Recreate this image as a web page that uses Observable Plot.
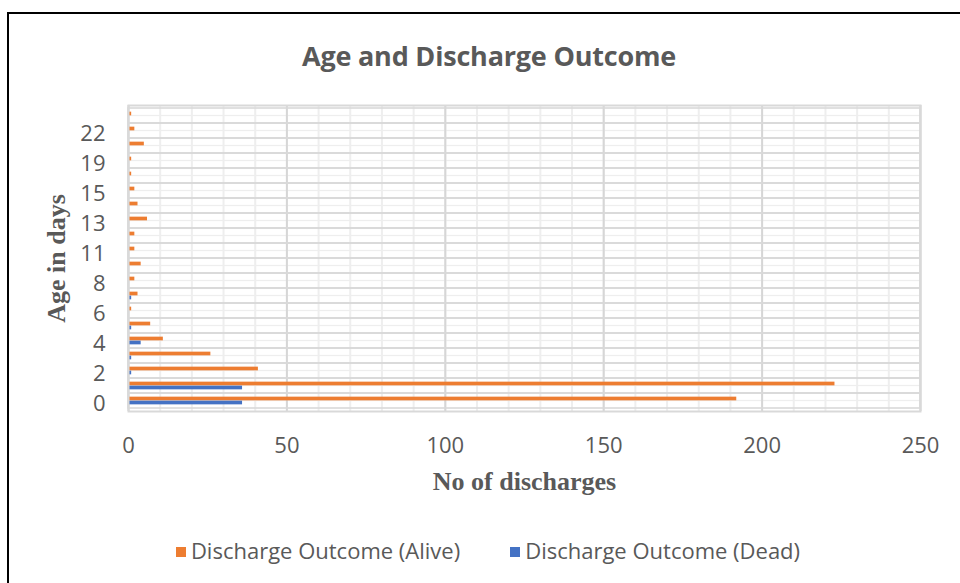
<!DOCTYPE html>
<html>
<head>
<meta charset="utf-8">
<script src="https://cdn.jsdelivr.net/npm/d3@7"></script>
<script src="https://cdn.jsdelivr.net/npm/@observablehq/plot@0.6"></script>
<style>
  html, body { margin: 0; padding: 0; background: #fff; }
  #wrap { position: relative; width: 960px; height: 583px; overflow: hidden; background: #fff; }
  #border { position: absolute; left: 7px; top: 12px; width: 1000px; height: 700px;
            border-left: 2.5px solid #000; border-top: 2.5px solid #000; box-sizing: border-box; }
  #title { position: absolute; left: 0; width: 978px; top: 37px; text-align: center;
           font: bold 27px "Open Sans", sans-serif; color: #595959; letter-spacing: -0.2px; }
  #chart { position: absolute; left: 0; top: 0; }
  #legend { position: absolute; left: 0; width: 976px; top: 535px; text-align: center;
            font: 22px "Open Sans", sans-serif; color: #595959; white-space: nowrap; }
  .item { display: inline-block; margin: 0 25px; }
  .sw { display: inline-block; width: 10px; height: 10px; margin-right: 5px; vertical-align: 2px; }
</style>
</head>
<body>
<div id="wrap">
  <div id="chart"></div>
  <div id="border"></div>
  <div id="title">Age and Discharge Outcome</div>
  <div id="legend"></div>
</div>
<script>
// ---- data ----
const ages  = ["0","1","2","3","4","5","6","7","8","9","11","12","13","14","15","17","19","21","22","25"];
const alive = [192,223,41,26,11,7,1,3,2,4,2,2,6,3,2,1,1,5,2,1];
const dead  = [36,36,1,1,4,1,0,1,0,0,0,0,0,0,0,0,0,0,0,0];
const yTickLabels = ["0","2","4","6","8","11","13","15","19","22"];
const xTicks = [0,50,100,150,200,250];
const seriesNames = ["Discharge Outcome (Alive)", "Discharge Outcome (Dead)"];
const seriesColors = ["#ED7D31", "#4472C4"];

const rows = ages.map((a, i) => ({age: a, alive: alive[i], dead: dead[i]}));

const W = 960, H = 583, mt = 105, mb = 172, ml = 128, mr = 40;
const bw = (H - mt - mb) / ages.length;     // band height in px
const half = bw / 2, barH = 4;

const chart = Plot.plot({
  width: W, height: H,
  marginTop: mt, marginBottom: mb, marginLeft: ml, marginRight: mr,
  style: {fontFamily: "Open Sans, sans-serif", fontSize: "22px", color: "#595959", background: "transparent"},
  x: {domain: [0, 250], label: null},
  y: {domain: ages.slice().reverse(), padding: 0, label: null},
  marks: [
    // minor vertical grid (every 10)
    Plot.ruleX(d3.range(0, 251, 10), {stroke: "#eeeeee", strokeWidth: 2}),
    // minor horizontal grid (mid band)
    Plot.barX(rows, {y: "age", x1: 0, x2: 250, fill: "#eeeeee", insetTop: half - 0.8, insetBottom: half - 0.8}),
    // major vertical grid (every 50)
    Plot.ruleX(xTicks, {stroke: "#d6d6d6", strokeWidth: 2}),
    // major horizontal grid (band boundaries)
    Plot.barX(rows, {y: "age", x1: 0, x2: 250, fill: "none", stroke: "#d9d9d9", strokeWidth: 1.6}),
    // bars
    Plot.barX(rows, {y: "age", x: "alive", fill: seriesColors[0], insetTop: half - barH, insetBottom: half}),
    Plot.barX(rows, {y: "age", x: "dead", fill: seriesColors[1], insetTop: half, insetBottom: half - barH}),
    // plot frame
    Plot.frame({stroke: "#d9d9d9", strokeWidth: 2}),
    // axes
    Plot.axisX({ticks: xTicks, tickSize: 0, tickPadding: 26, label: null}),
    Plot.axisY({ticks: yTickLabels, tickSize: 0, tickPadding: 23, dy: 3, label: null}),
    // axis titles
    Plot.text(["No of discharges"], {frameAnchor: "bottom", dy: 78, fontSize: 26, fontWeight: "bold",
      fontFamily: "Liberation Serif, serif", fill: "#595959"}),
    Plot.text(["Age in days"], {frameAnchor: "left", dx: -72, rotate: -90, textAnchor: "middle", fontSize: 26, fontWeight: "bold",
      fontFamily: "Liberation Serif, serif", fill: "#595959"})
  ]
});
document.getElementById("chart").appendChild(chart);

const legend = document.getElementById("legend");
seriesNames.forEach((n, i) => {
  const it = document.createElement("span");
  it.className = "item";
  it.innerHTML = `<span class="sw" style="background:${seriesColors[i]}"></span>${n}`;
  legend.appendChild(it);
});
</script>
</body>
</html>
